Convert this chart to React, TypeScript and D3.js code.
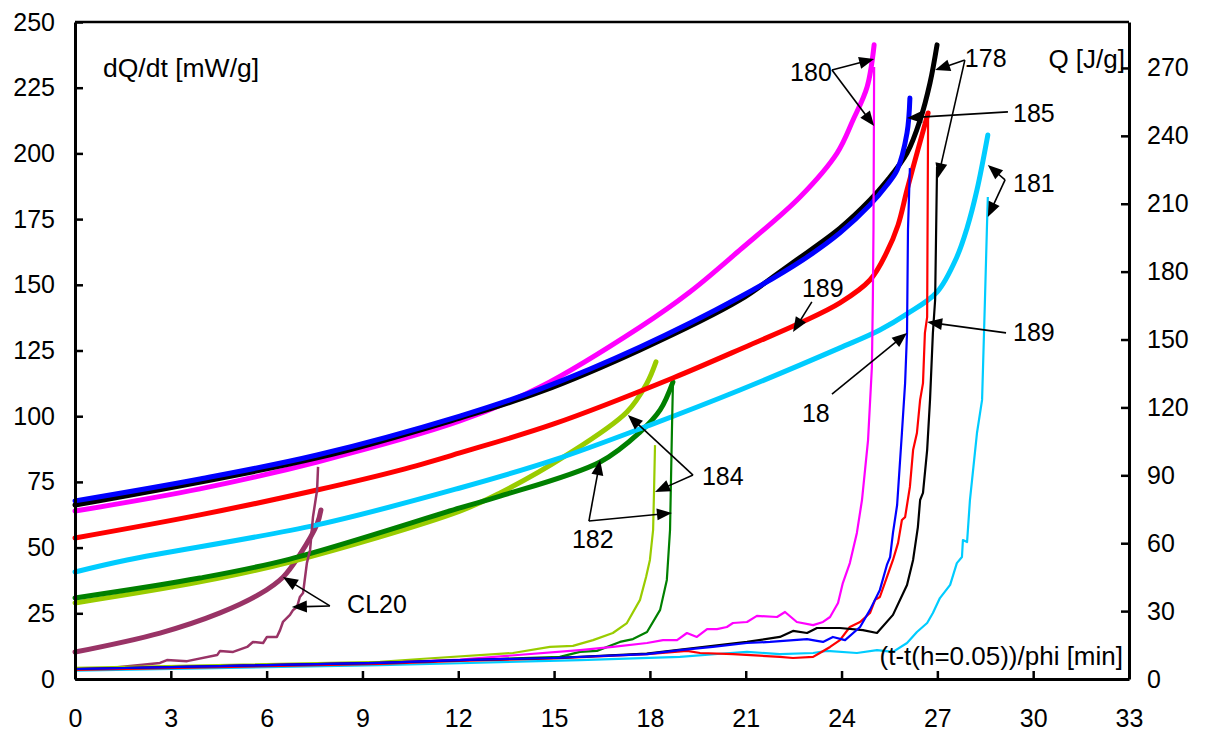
import { useEffect, useRef } from 'react'
import * as d3 from 'd3'

type P = [number, number]

// Q [J/g] vs (t-t(h=0.05))/phi [min]  (thick lines, right axis)
const q178: P[] = [[0, 76.9], [7.58, 97.7], [12.05, 115.3], [14.56, 126.8], [17.69, 145.4], [20.82, 167.5], [21.85, 177.6], [22.6, 185.2], [23.95, 199.2], [24.89, 211.6], [25.42, 220.1], [26.05, 232.4], [26.46, 247.0], [26.77, 263.4], [26.99, 280.2]]
const q180: P[] = [[0, 74.2], [3.91, 84.0], [7.58, 95.9], [12.05, 114.0], [14.56, 129.0], [17.69, 155.5], [19.25, 171.0], [20.82, 189.6], [22.7, 213.0], [23.86, 232.4], [24.36, 247.0], [24.8, 261.6], [25.02, 280.2]]
const q185: P[] = [[0, 78.7], [3.91, 88.4], [7.58, 99.0], [12.05, 116.2], [14.56, 128.1], [17.69, 146.7], [20.82, 168.8], [22.79, 185.2], [23.95, 197.1], [24.89, 209.5], [25.42, 218.3], [25.74, 224.9], [26.05, 241.3], [26.14, 256.7]]
const q189: P[] = [[0, 62.3], [3.91, 72.5], [7.58, 83.5], [10.18, 92.3], [12.05, 99.9], [14.99, 112.7], [18.72, 133.0], [21.13, 147.6], [22.7, 157.3], [23.95, 166.2], [24.89, 176.3], [25.42, 188.7], [25.77, 200.6], [26.05, 216.1], [26.39, 233.8], [26.71, 250.1]]
const q181: P[] = [[0, 47.3], [1.63, 52.6], [7.58, 68.1], [12.05, 84.4], [15.0, 96.8], [18.0, 112.2], [20.82, 127.7], [23.95, 146.3], [25.2, 154.2], [26.05, 161.3], [26.99, 171.0], [27.61, 186.5], [27.93, 199.3], [28.24, 216.1], [28.58, 240.4]]
const q182: P[] = [[0, 35.8], [3.91, 44.6], [6.73, 53.0], [12.05, 75.6], [13.31, 80.8], [16.44, 95.9], [17.69, 109.1], [18.32, 118.9], [18.72, 131.2]]
const q184: P[] = [[0, 33.6], [3.91, 42.9], [6.73, 51.7], [12.05, 74.2], [13.31, 82.2], [15.4, 99.0], [17.28, 118.0], [17.91, 130.8], [18.19, 140.1]]
const qCL20: P[] = [[0, 11.9], [2.66, 20.3], [4.54, 29.2], [5.79, 37.6], [6.51, 45.0], [7.04, 55.0], [7.58, 68.5], [7.7, 74.7]]

// dQ/dt [mW/g]  (thin lines, left axis)
const r178: P[] = [[0, 3.8], [9.55, 6.1], [12.05, 7.2], [15.0, 8.0], [17.9, 9.7], [19.97, 12.6], [21.04, 14.1], [22.07, 16.0], [22.48, 18.3], [22.92, 17.5], [23.23, 19.4], [23.95, 19.4], [24.67, 18.6], [25.11, 17.5], [25.61, 24.4], [26.05, 35.8], [26.24, 45.3], [26.39, 57.8], [26.46, 68.1], [26.55, 70.8], [26.68, 87.1], [26.77, 106.2], [26.86, 131.7], [26.93, 144.2], [26.99, 194.8]]
const r180: P[] = [[0, 3.8], [9.55, 6.1], [12.05, 7.4], [15.81, 11.0], [16.84, 12.2], [17.91, 13.7], [18.41, 14.8], [18.85, 14.8], [19.16, 17.5], [19.47, 16.0], [19.79, 19.0], [20.1, 19.0], [20.41, 19.8], [20.6, 21.3], [21.04, 21.7], [21.35, 24.0], [21.98, 23.6], [22.23, 25.5], [22.6, 21.7], [23.11, 20.5], [23.42, 21.7], [23.64, 23.6], [23.89, 28.9], [24.04, 36.5], [24.26, 44.1], [24.48, 55.6], [24.64, 68.1], [24.83, 90.9], [24.95, 118.7], [24.98, 144.2], [25.0, 170.9], [25.02, 232.9]]
const r185: P[] = [[0, 3.8], [9.55, 6.1], [12.05, 7.2], [15.0, 8.0], [17.91, 9.5], [18.94, 11.0], [19.97, 12.2], [21.04, 13.7], [21.76, 14.1], [22.92, 15.2], [23.23, 14.5], [23.42, 14.1], [23.73, 16.0], [24.11, 14.8], [24.58, 19.8], [24.89, 26.3], [25.2, 33.9], [25.42, 43.4], [25.52, 46.4], [25.61, 55.6], [25.74, 66.2], [25.89, 93.6], [25.99, 112.6], [26.05, 131.7], [26.08, 170.9], [26.14, 194.4]]
const r189: P[] = [[0, 3.5], [9.55, 5.7], [12.05, 6.9], [15.0, 7.8], [17.91, 9.5], [19.16, 10.7], [19.57, 9.9], [20.6, 9.5], [22.07, 8.4], [22.48, 8.0], [23.11, 8.4], [23.32, 9.9], [23.64, 12.2], [23.95, 14.8], [24.26, 19.8], [24.58, 21.7], [24.89, 25.1], [25.05, 30.1], [25.2, 31.2], [25.42, 38.8], [25.61, 45.3], [25.77, 51.8], [25.89, 60.5], [25.99, 61.6], [26.14, 73.1], [26.24, 87.1], [26.36, 93.6], [26.46, 106.2], [26.55, 112.6], [26.61, 131.7], [26.68, 137.7], [26.71, 214.6]]
const r181: P[] = [[0, 3.2], [9.55, 5.3], [12.05, 6.0], [15.81, 7.2], [18.94, 8.4], [20.51, 9.9], [21.04, 10.3], [22.07, 9.5], [23.11, 9.9], [23.54, 10.7], [24.48, 9.9], [25.11, 11.0], [25.61, 10.3], [26.05, 13.7], [26.36, 17.9], [26.68, 21.3], [26.86, 25.1], [27.08, 30.8], [27.4, 35.8], [27.61, 44.1], [27.77, 46.4], [27.8, 52.9], [27.93, 52.1], [28.02, 68.1], [28.24, 93.6], [28.4, 106.2], [28.43, 118.7], [28.49, 144.2], [28.55, 170.9], [28.58, 183.4]]
const r182: P[] = [[0, 3.8], [9.55, 6.1], [12.05, 7.2], [15.18, 8.4], [15.81, 10.3], [16.34, 10.7], [17.06, 14.1], [17.47, 15.2], [17.91, 17.9], [18.32, 26.3], [18.53, 37.7], [18.63, 56.7], [18.69, 94.7], [18.72, 111.9]]
const r184: P[] = [[0, 4.2], [9.55, 6.5], [10.8, 7.6], [13.71, 9.9], [14.87, 12.2], [15.59, 12.6], [16.22, 14.8], [16.84, 17.5], [17.28, 21.3], [17.69, 30.1], [17.88, 38.8], [18.0, 45.3], [18.1, 56.7], [18.13, 71.9], [18.16, 89.0]]
const rCL20: P[] = [[0, 3.8], [1.1, 4.2], [2.66, 6.1], [2.88, 7.2], [3.51, 6.8], [4.45, 9.1], [4.54, 10.7], [4.95, 10.3], [5.39, 12.2], [5.57, 14.1], [5.89, 13.7], [6.01, 16.0], [6.32, 16.0], [6.42, 18.6], [6.51, 21.7], [6.73, 24.4], [6.83, 26.3], [6.95, 27.4], [7.04, 31.2], [7.14, 32.7], [7.26, 44.1], [7.36, 49.1], [7.45, 61.6], [7.58, 71.9], [7.61, 80.7]]

const xTicks = d3.range(0, 34, 3)
const leftTicks = d3.range(0, 251, 25)
const rightTicks = d3.range(0, 271, 30)

const series = [
  { name: 'CL20', color: '#993366', q: qCL20, r: rCL20 },
  { name: '184', color: '#99CC00', q: q184, r: r184 },
  { name: '182', color: '#008000', q: q182, r: r182 },
  { name: '181', color: '#00CCFF', q: q181, r: r181 },
  { name: '189', color: '#FF0000', q: q189, r: r189 },
  { name: '180', color: '#FF00FF', q: q180, r: r180 },
  { name: '178', color: '#000000', q: q178, r: r178 },
  { name: '185', color: '#0000FF', q: q185, r: r185 },
]

// callouts: label position, arrow start, arrow tips (x in min, y in mW/g)
const notes: { text: string; at: P; from: P; to: P[] }[] = [
  { text: '180', at: [22.39, 227.5], from: [23.7, 231.7], to: [[25.02, 235.9], [25.02, 210.4]] },
  { text: '178', at: [27.86, 232.9], from: [27.86, 235.5], to: [[26.93, 231.7], [27.02, 190.6]] },
  { text: '185', at: [29.37, 211.9], from: [29.21, 215.8], to: [[26.05, 213.5]] },
  { text: '181', at: [29.37, 185.3], from: [29.12, 189.9], to: [[28.58, 195.6], [28.58, 175.8]] },
  { text: '189', at: [22.76, 145.4], from: [23.07, 143.5], to: [[22.48, 132.0]] },
  { text: '189', at: [29.37, 128.6], from: [29.15, 131.7], to: [[26.68, 135.8]] },
  { text: '18', at: [22.76, 97.8], from: [23.7, 108.4], to: [[26.05, 131.7]] },
  { text: '184', at: [19.63, 73.8], from: [19.35, 77.6], to: [[17.31, 100.5], [18.16, 71.2]] },
  { text: '182', at: [15.56, 49.8], from: [16.09, 60.1], to: [[16.44, 83.3], [18.69, 63.2]] },
  { text: 'CL20', at: [8.52, 25.1], from: [7.98, 27.8], to: [[6.51, 38.8], [6.79, 27.4]] },
]

const FONT = '"Liberation Sans", Arial, sans-serif'

export default function App() {
  const ref = useRef<SVGSVGElement>(null)

  useEffect(() => {
    if (!ref.current) return
    const svg = d3.select(ref.current)
    svg.selectAll('*').remove()

    const x = d3.scaleLinear().domain([0, 33]).range([75, 1129])
    const yL = d3.scaleLinear().domain([0, 250]).range([679, 22])
    const yR = d3.scaleLinear().domain([0, 290.3]).range([679, 22])

    const lineQ = d3.line<P>().x(d => x(d[0])).y(d => yR(d[1])).curve(d3.curveCatmullRom.alpha(0.5))
    const lineR = d3.line<P>().x(d => x(d[0])).y(d => yL(d[1]))

    const g = svg.append('g')

    series.forEach(s => {
      g.append('path').attr('d', lineQ(s.q)).attr('fill', 'none').attr('stroke', s.color)
        .attr('stroke-width', 5).attr('stroke-linecap', 'round').attr('stroke-linejoin', 'round')
    })
    series.forEach(s => {
      g.append('path').attr('d', lineR(s.r)).attr('fill', 'none').attr('stroke', s.color)
        .attr('stroke-width', s.name === 'CL20' ? 2.5 : 2.2).attr('stroke-linejoin', 'round')
    })

    // frame top
    svg.append('line').attr('x1', 75).attr('x2', 1129).attr('y1', 22).attr('y2', 22)
      .attr('stroke', '#000').attr('stroke-width', 2.5)

    const styleAxis = (a: d3.Selection<SVGGElement, unknown, null, undefined>) => {
      a.attr('font-family', FONT).attr('font-size', 25)
      a.select('.domain').attr('stroke-width', 3)
      a.selectAll('.tick line').attr('stroke-width', 2.5)
      a.selectAll('.tick text').attr('fill', '#000')
    }

    const ax = svg.append('g').attr('transform', 'translate(0,679)')
      .call(d3.axisBottom(x).tickValues(xTicks).tickSize(-8).tickSizeOuter(0).tickPadding(30).tickFormat(d3.format('d')))
    styleAxis(ax)
    const al = svg.append('g').attr('transform', 'translate(75,0)')
      .call(d3.axisLeft(yL).tickValues(leftTicks).tickSize(-8).tickSizeOuter(0).tickPadding(20).tickFormat(d3.format('d')))
    styleAxis(al)
    const ar = svg.append('g').attr('transform', 'translate(1129,0)')
      .call(d3.axisRight(yR).tickValues(rightTicks).tickSize(-8).tickSizeOuter(0).tickPadding(18).tickFormat(d3.format('d')))
    styleAxis(ar)

    const txt = svg.append('g').attr('font-family', FONT).attr('fill', '#000')
    txt.append('text').attr('x', 103).attr('y', 77).attr('font-size', 26.5).text('dQ/dt [mW/g]')
    txt.append('text').attr('x', 1125).attr('y', 68).attr('font-size', 26).attr('text-anchor', 'end').text('Q [J/g]')
    txt.append('text').attr('x', 1123).attr('y', 665).attr('font-size', 26).attr('text-anchor', 'end').text('(t-t(h=0.05))/phi [min]')

    // callouts
    const ng = svg.append('g')
    notes.forEach(n => {
      ng.append('text').attr('x', x(n.at[0])).attr('y', yL(n.at[1])).attr('font-family', FONT)
        .attr('font-size', 25).text(n.text)
      const x0 = x(n.from[0]), y0 = yL(n.from[1])
      n.to.forEach(t => {
        const x1 = x(t[0]), y1 = yL(t[1])
        const dx = x1 - x0, dy = y1 - y0
        const len = Math.hypot(dx, dy)
        const ux = dx / len, uy = dy / len
        const L = 15, Wd = 6
        const bx = x1 - ux * L, by = y1 - uy * L
        ng.append('line').attr('x1', x0).attr('y1', y0).attr('x2', bx + ux * 2).attr('y2', by + uy * 2)
          .attr('stroke', '#000').attr('stroke-width', 1.6)
        ng.append('polygon')
          .attr('points', `${x1},${y1} ${bx - uy * Wd},${by + ux * Wd} ${bx + uy * Wd},${by - ux * Wd}`)
          .attr('fill', '#000')
      })
    })
  }, [])

  return (
    <svg ref={ref} width={1205} height={731}
      style={{ position: 'absolute', left: 0, top: 0, background: '#fff' }} />
  )
}
